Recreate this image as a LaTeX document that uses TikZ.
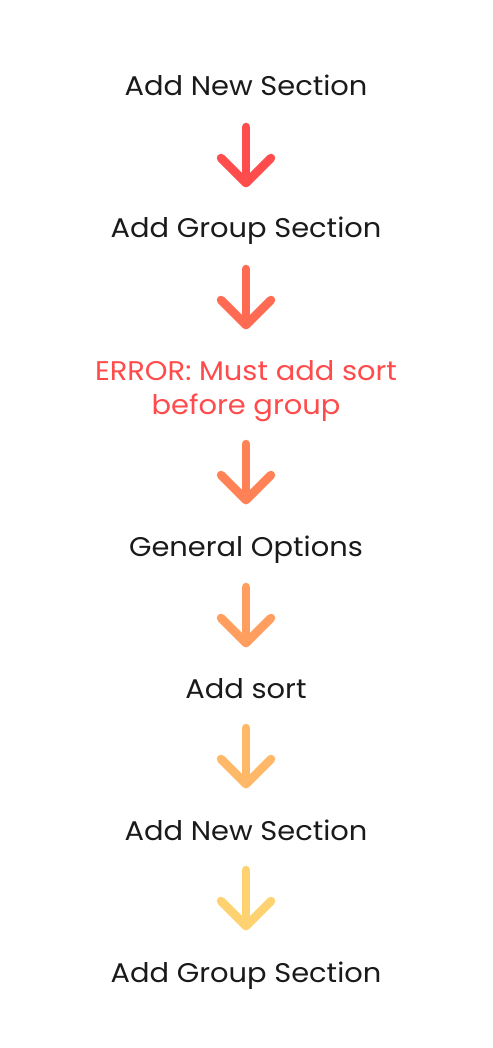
\documentclass[tikz,border=0pt]{standalone}
\usepackage{fontspec}
\setmainfont{Poppins}[FakeStretch=1.07]
\definecolor{txt}{HTML}{1A1A1A}
\definecolor{err}{HTML}{FF4B4B}
\definecolor{ca}{HTML}{FF4D4D}
\definecolor{cb}{HTML}{FF6A52}
\definecolor{cc}{HTML}{FF8257}
\definecolor{cd}{HTML}{FF9E5E}
\definecolor{ce}{HTML}{FFB867}
\definecolor{cf}{HTML}{FFD271}
\tikzset{
  lbl/.style={anchor=base, inner sep=0pt, font=\fontsize{27}{32}\selectfont, text=txt},
  arr/.style={line width=8.5pt, line cap=round, line join=round},
}
\newcommand\myarrow[3]{%
  \coordinate (#1s) at (246,#2);
  \coordinate (#1e) at (246,#2+56);
  \draw[arr,#3] (#1s) -- (#1e);
  \draw[arr,#3] (#1e) ++(-25,-25) -- (#1e) -- ++(25,-25);
}
\begin{document}
\begin{tikzpicture}[x=1pt,y=-1pt]
\useasboundingbox (0,0) rectangle (492,1048);
\fill[white] (0,0) rectangle (492,1048);
\node[lbl] (t1) at (246,96) {Add New Section};
\node[lbl] (t2) at (246,238) {Add Group Section};
\node[lbl, text=err] (t3) at (246,380) {ERROR: Must add sort};
\node[lbl, text=err] (t3b) at (246,414) {before group};
\node[lbl] (t4) at (246,556) {General Options};
\node[lbl] (t5) at (246,698) {Add sort};
\node[lbl] (t6) at (246,840) {Add New Section};
\node[lbl] (t7) at (246,982) {Add Group Section};
\myarrow{a1}{127}{ca}
\myarrow{a2}{269}{cb}
\myarrow{a3}{444}{cc}
\myarrow{a4}{587}{cd}
\myarrow{a5}{728}{ce}
\myarrow{a6}{870}{cf}
\end{tikzpicture}
\end{document}
